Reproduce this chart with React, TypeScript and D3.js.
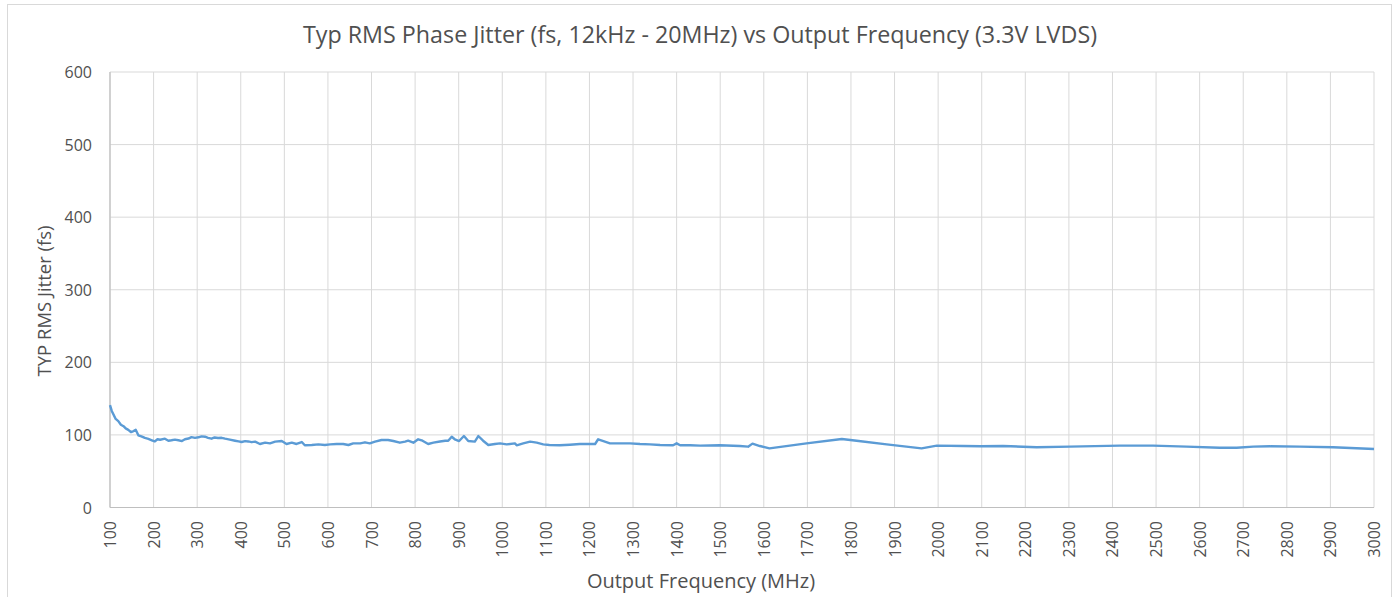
import React from "react";
import * as d3 from "d3";

const freqMHz = [
  100, 104, 108, 113, 119, 125, 131, 136, 142, 148, 153, 159, 165, 172, 180, 188, 196, 203, 209, 215, 226, 234, 241, 249, 257, 265, 272, 280, 287, 295, 303, 310, 318, 325, 333, 340, 348, 356, 364, 375, 387, 395, 402, 410, 417, 425, 433, 444, 456, 467, 479, 494, 505, 517, 528, 540, 547, 563, 578, 593, 605, 620, 635, 647, 658, 674, 685, 696, 708, 723, 738, 750, 765, 777, 784, 796, 807, 817, 830, 842, 857, 869, 876, 884, 891, 901, 912, 922, 937, 945, 956, 968, 983, 995, 1010, 1029, 1033, 1048, 1064, 1079, 1094, 1108, 1132, 1155, 1178, 1201, 1213, 1220, 1232, 1247, 1270, 1293, 1316, 1339, 1362, 1392, 1400, 1408, 1431, 1454, 1499, 1545, 1564, 1574, 1591, 1613, 1698, 1779, 1813, 1882, 1962, 1997, 2058, 2097, 2149, 2226, 2302, 2417, 2493, 2570, 2646, 2685, 2723, 2761, 2830, 2906, 3000,
];
const jitterFs = [
  141, 133, 128, 122, 119, 114, 112, 109, 107, 104, 105, 107, 99.5, 98, 95.8, 94.5, 92.6, 91, 94, 93.4, 94.8, 92, 92.6, 93.5, 92.6, 91.5, 94, 95, 97, 96, 96.7, 98, 97.5, 96, 94.8, 96.5, 95.7, 96, 94.8, 93.5, 92, 91, 90.2, 91.5, 91, 90, 90.7, 87.5, 89.3, 88.4, 90.7, 91.6, 87.5, 89.3, 87.5, 90.2, 85.7, 86.1, 87, 86.1, 87, 87.5, 87.5, 86.1, 88.4, 88.4, 89.8, 88.4, 90.7, 93, 93, 91.6, 89.3, 90.7, 92, 89.3, 94, 92, 87.5, 89.3, 91, 92, 92, 97.5, 94, 91.6, 98.5, 91.6, 90.7, 98.5, 92, 86.1, 87.5, 88.4, 87, 88.4, 85.7, 88.4, 90.7, 89.3, 87, 86.1, 85.7, 86.5, 87.5, 87.5, 87.5, 94, 91.6, 88.4, 88.4, 88.4, 87.5, 87, 86.1, 85.7, 88.4, 85.7, 85.7, 85.2, 85.7, 84.7, 83.8, 88, 84.7, 81.5, 88.4, 94.4, 92, 87, 81.5, 85.2, 84.7, 84.3, 84.7, 83, 83.8, 85.2, 85.2, 83.8, 82.4, 82.4, 83.8, 84.3, 83.8, 83, 80.6,
];
const xTicks = d3.range(100, 3001, 100);
const yTicks = [0, 100, 200, 300, 400, 500, 600];

const titleText = "Typ RMS Phase Jitter (fs, 12kHz - 20MHz) vs Output Frequency (3.3V LVDS)";
const xTitle = "Output Frequency (MHz)";
const yTitle = "TYP RMS Jitter (fs)";

export default function App() {
  const W = 1397;
  const H = 597;
  const left = 110, right = 1374, top = 72, bottom = 507.5;
  const x = d3.scaleLinear().domain([100, 3000]).range([left, right]);
  const y = d3.scaleLinear().domain([0, 600]).range([bottom, top]);
  const pts = freqMHz.map((f, i) => [f, jitterFs[i]] as [number, number]);
  const line = d3
    .line<[number, number]>()
    .x((d) => x(d[0]))
    .y((d) => y(d[1]))(pts);
  const font = "'Open Sans', 'Liberation Sans', sans-serif";
  const txt = "#505050";
  return (
    <svg
      width={W}
      height={H}
      style={{ position: "absolute", left: 0, top: 0, background: "#fff" }}
    >
      <rect x={7.5} y={4.5} width={1384} height={600} fill="#fff" stroke="#d9d9d9" strokeWidth={1} />
      <text x={700} y={43} textAnchor="middle" fontFamily={font} fontSize={23} fill={txt} textLength={794} lengthAdjust="spacingAndGlyphs">
        {titleText}
      </text>
      {xTicks.map((t) => (
        <line key={"gx" + t} x1={x(t)} x2={x(t)} y1={top} y2={bottom} stroke="#d9d9d9" strokeWidth={1} />
      ))}
      {yTicks.map((t) => (
        <line key={"gy" + t} x1={left} x2={right} y1={y(t)} y2={y(t)} stroke="#d9d9d9" strokeWidth={1} />
      ))}
      <line x1={left} x2={right} y1={bottom} y2={bottom} stroke="#bfbfbf" strokeWidth={1.2} />
      <line x1={left} x2={left} y1={top} y2={bottom} stroke="#bfbfbf" strokeWidth={1.2} />
      <path d={line || ""} fill="none" stroke="#5b9bd5" strokeWidth={2.4} strokeLinejoin="round" />
      {yTicks.map((t) => (
        <text key={"ly" + t} x={92} y={y(t) + 6} textAnchor="end" fontFamily={font} fontSize={16} fill={txt}>
          {t}
        </text>
      ))}
      {xTicks.map((t) => (
        <text
          key={"lx" + t}
          transform={`translate(${x(t) + 6},521) rotate(-90)`}
          textAnchor="end"
          fontFamily={font}
          fontSize={16}
          fill={txt}
        >
          {t}
        </text>
      ))}
      <text x={701} y={588} textAnchor="middle" fontFamily={font} fontSize={20} fill={txt}>
        {xTitle}
      </text>
      <text
        transform={`translate(51,301) rotate(-90)`}
        textAnchor="middle"
        fontFamily={font}
        fontSize={18.5}
        fill={txt}
      >
        {yTitle}
      </text>
    </svg>
  );
}
